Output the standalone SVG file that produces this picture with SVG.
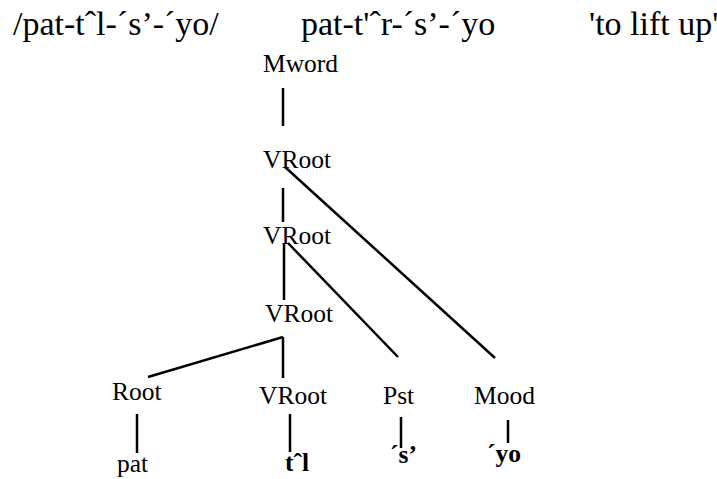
<svg xmlns="http://www.w3.org/2000/svg" width="717" height="479" viewBox="0 0 717 479" font-family="'Liberation Serif', 'Times New Roman', Times, 'DejaVu Serif', serif">
<style>
text{font-family:'Liberation Serif','Times New Roman',Times,'DejaVu Serif',serif;fill:#000}
.h{font-size:34px}
.t{font-size:25.5px}
.b{font-weight:bold}
.c line{stroke:#000;stroke-width:2.5;fill:none}
</style>
<rect width="717" height="479" fill="#fff"/>
<g id="header">
<text class="h" x="13" y="35">/pat-tˆl-´s’-´yo/</text>
<text class="h" x="301" y="35">pat-t'ˆr-´s’-´yo</text>
<text class="h" x="589" y="35">'to lift up'</text>
</g>
<g class="c" id="connectors">
<line x1="283" y1="88" x2="283" y2="126"/>
<line x1="283" y1="188" x2="283" y2="222"/>
<line x1="284" y1="243" x2="284" y2="300"/>
<line x1="288" y1="243" x2="398" y2="357"/>
<line x1="285" y1="167" x2="495" y2="358"/>
<line x1="283" y1="337" x2="148" y2="377"/>
<line x1="283" y1="337" x2="283" y2="378"/>
<line x1="137" y1="414" x2="137" y2="453"/>
<line x1="290" y1="414" x2="290" y2="452"/>
<line x1="401" y1="417" x2="401" y2="448"/>
<line x1="508" y1="420" x2="508" y2="443"/>
</g>
<g id="mword"><text class="t" x="263" y="72">Mword</text></g>
<g id="vroot1"><text class="t" x="263" y="168">VRoot</text></g>
<g id="vroot2"><text class="t" x="263" y="244">VRoot</text></g>
<g id="vroot3"><text class="t" x="265" y="322">VRoot</text></g>
<g id="root"><text class="t" x="112" y="400">Root</text></g>
<g id="vroot4"><text class="t" x="259" y="404">VRoot</text></g>
<g id="pst"><text class="t" x="383" y="404">Pst</text></g>
<g id="mood"><text class="t" x="474" y="404">Mood</text></g>
<g id="pat"><text class="t" x="117" y="472">pat</text></g>
<g id="tl"><text class="t b" x="285" y="471">tˆl</text></g>
<g id="s"><text class="t b" x="390" y="463">´s’</text></g>
<g id="yo"><text class="t b" x="487" y="462">´yo</text></g>
</svg>
